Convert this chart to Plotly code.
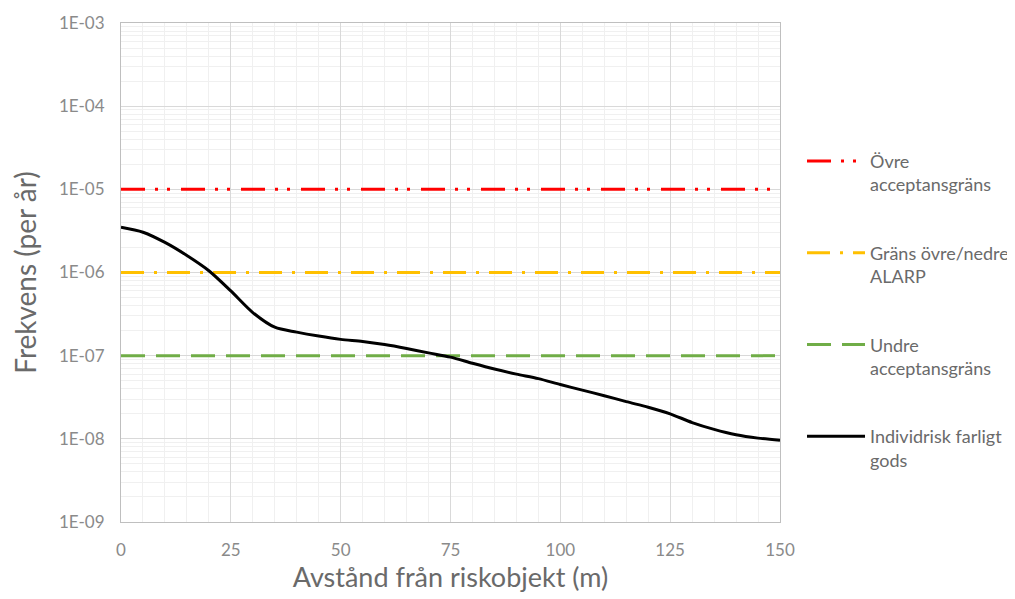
import plotly.graph_objects as go

# ---- data ----
distance_m = [0, 5, 10, 15, 20, 25, 30, 35, 40, 45, 50, 55, 60, 65, 70, 75,
              80, 85, 90, 95, 100, 105, 110, 115, 120, 125, 130, 135, 140, 145, 150]
individrisk = [3.5e-6, 3.05e-6, 2.3e-6, 1.6e-6, 1.05e-6, 6.0e-7, 3.3e-7, 2.2e-7,
               1.92e-7, 1.72e-7, 1.57e-7, 1.48e-7, 1.36e-7, 1.22e-7, 1.08e-7, 9.6e-8,
               8.1e-8, 6.9e-8, 6.0e-8, 5.3e-8, 4.5e-8, 3.85e-8, 3.3e-8, 2.8e-8,
               2.4e-8, 2.0e-8, 1.57e-8, 1.3e-8, 1.12e-8, 1.02e-8, 9.6e-9]
limit_x = [0, 150]
ovre_gr = [1e-5, 1e-5]
alarp_gr = [1e-6, 1e-6]
undre_gr = [1e-7, 1e-7]

y_tickvals = [1e-9, 1e-8, 1e-7, 1e-6, 1e-5, 1e-4, 1e-3]
y_ticktext = ["1E-09", "1E-08", "1E-07", "1E-06", "1E-05", "1E-04", "1E-03"]
y_minor = [m * 10.0 ** e for e in range(-9, -3) for m in range(2, 10)]

names = ["Övre<br>acceptansgräns", "Gräns övre/nedre<br>ALARP",
         "Undre<br>acceptansgräns", "Individrisk farligt<br>gods"]

FONT = "Lato, 'Open Sans', sans-serif"
TICK = "#8a8a8a"
TITLE = "#6a6a6a"

fig = go.Figure()
fig.add_trace(go.Scatter(x=limit_x, y=ovre_gr, mode="lines", name=names[0], legendgroup="a",
                         line=dict(color="#ff0000", width=3, dash="24px,10px,3px,9px,3px,11px")))
fig.add_trace(go.Scatter(x=limit_x, y=alarp_gr, mode="lines", name=names[1], legendgroup="b",
                         line=dict(color="#ffc000", width=3, dash="23px,10px,3px,10px")))
fig.add_trace(go.Scatter(x=limit_x, y=undre_gr, mode="lines", name=names[2], legendgroup="c",
                         line=dict(color="#70ad47", width=3, dash="24px,11px")))
fig.add_trace(go.Scatter(x=distance_m, y=individrisk, mode="lines", name=names[3], legendgroup="d",
                         line=dict(color="#000000", width=3, shape="spline", smoothing=0.8)))

fig.update_layout(
    width=1007, height=591,
    margin=dict(l=113, r=235, t=15, b=77, autoexpand=False),
    paper_bgcolor="white", plot_bgcolor="white",
    font=dict(family=FONT, color=TICK, size=17),
    legend=dict(x=1.0334, y=0.76, xanchor="left", yanchor="top", itemwidth=58,
                font=dict(size=18, color=TITLE, family=FONT),
                tracegroupgap=42, valign="top", bgcolor="rgba(0,0,0,0)"),
    xaxis=dict(range=[0, 150], dtick=25, tick0=0, showgrid=True, gridcolor="#d9d9d9", gridwidth=1,
               minor=dict(dtick=5, showgrid=True, gridcolor="#f0f0f0", gridwidth=1),
               showline=True, linecolor="#bfbfbf", linewidth=1, mirror=True,
               zeroline=False, ticks="", ticklabelstandoff=13, tickfont=dict(size=17, color=TICK),
               title=dict(text="Avstånd från riskobjekt (m)", font=dict(size=27, color=TITLE), standoff=8)),
    yaxis=dict(type="log", range=[-9, -3], tickmode="array", tickvals=y_tickvals, ticktext=y_ticktext,
               showgrid=True, gridcolor="#d9d9d9", gridwidth=1,
               minor=dict(tickmode="array", tickvals=y_minor, showgrid=True, gridcolor="#f0f0f0", gridwidth=1),
               showline=True, linecolor="#bfbfbf", linewidth=1, mirror=True,
               zeroline=False, ticks="", ticklabelstandoff=12, tickfont=dict(size=17, color=TICK),
               title=dict(text="Frekvens (per år)", font=dict(size=28, color=TITLE), standoff=23)),
)

fig.write_html("out.html")
